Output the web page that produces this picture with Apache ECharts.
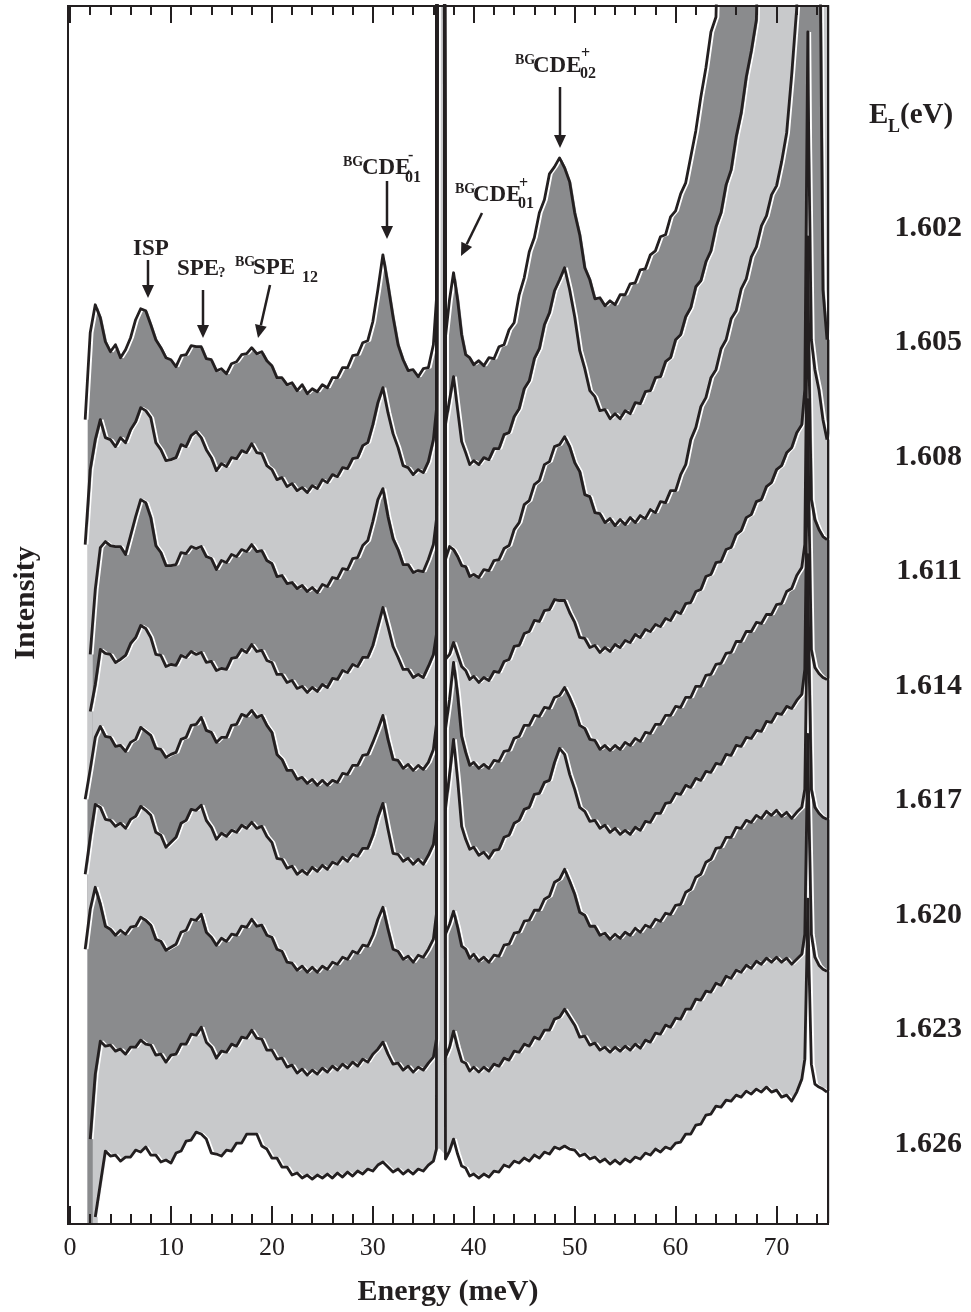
<!DOCTYPE html>
<html>
<head>
<meta charset="utf-8">
<script src="https://cdn.jsdelivr.net/npm/echarts@6/dist/echarts.min.js"></script>
<style>
html, body { margin: 0; padding: 0; background: #fff; }
#chart { width: 971px; height: 1312px; }
</style>
</head>
<body>
<div id="chart"></div>
<script>
// Raman energy shift (meV) grid shared by all spectra
var energy = [
  1.5, 2, 2.5, 3, 3.5, 4, 4.5, 5, 5.5, 6,
  6.5, 7, 7.5, 8, 8.5, 9, 9.5, 10, 10.5, 11,
  11.5, 12, 12.5, 13, 13.5, 14, 14.5, 15, 15.5, 16,
  16.5, 17, 17.5, 18, 18.5, 19, 19.5, 20, 20.5, 21,
  21.5, 22, 22.5, 23, 23.5, 24, 24.5, 25, 25.5, 26,
  26.5, 27, 27.5, 28, 28.5, 29, 29.5, 30, 30.5, 31,
  31.5, 32, 32.5, 33, 33.5, 34, 34.5, 35, 35.5, 36,
  36.3, 36.5, 36.9, 37.2, 37.6, 38, 38.4, 38.8, 39.2, 39.6, 40,
  40.5, 41, 41.5, 42, 42.5, 43, 43.5, 44, 44.5, 45,
  45.5, 46, 46.5, 47, 47.5, 48, 48.5, 49, 49.5, 50,
  50.5, 51, 51.5, 52, 52.5, 53, 53.5, 54, 54.5, 55,
  55.5, 56, 56.5, 57, 57.5, 58, 58.5, 59, 59.5, 60,
  60.5, 61, 61.5, 62, 62.5, 63, 63.5, 64, 64.5, 65,
  65.5, 66, 66.5, 67, 67.5, 68, 68.5, 69, 69.5, 70,
  70.5, 71, 71.5, 72, 72.5,
  72.8, 73, 73.1, 73.2, 73.45, 73.8, 74.2, 74.6, 75
];

// intensities (arb. units, spectra offset vertically) for each laser energy
var spec1602 = [
  804, 891, 919, 906, 882, 872, 879, 866, 874, 886,
  904, 915, 913, 899, 884, 876, 866, 864, 857, 868,
  869, 878, 877, 877, 865, 864, 853, 855, 850, 860,
  862, 869, 870, 876, 870, 872, 863, 858, 846, 846,
  839, 841, 833, 839, 830, 835, 832, 839, 836, 846,
  846, 856, 856, 868, 869, 881, 883, 902, 934, 969,
  939, 907, 879, 864, 853, 854, 847, 855, 856, 879,
  924, 3000, 3000, 887, 924, 951, 924, 889, 869, 866, 859,
  863, 858, 866, 865, 877, 879, 894, 901, 929, 946,
  972, 986, 1011, 1024, 1050, 1057, 1066, 1056, 1042, 1011,
  989, 956, 944, 925, 926, 918, 923, 919, 929, 929,
  940, 941, 954, 955, 969, 973, 987, 989, 1007, 1013,
  1030, 1041, 1067, 1093, 1127, 1156, 1192, 1207, 1400, 1400,
  1400, 1400, 1400, 1400, 1400, 1400, 1400, 1400, 1400, 1400,
  1400, 1400, 1400, 1400, 1400,
  1400, 1400, 1400, 1400, 1400, 1400, 1400, 1400, 1400
];
var spec1605 = [
  679, 754, 784, 804, 786, 784, 777, 786, 781, 794,
  802, 816, 813, 806, 781, 774, 763, 764, 766, 779,
  777, 788, 792, 786, 774, 766, 753, 760, 757, 766,
  765, 773, 771, 780, 771, 770, 758, 754, 744, 746,
  737, 740, 733, 736, 731, 738, 735, 744, 741, 749,
  747, 756, 755, 765, 766, 778, 781, 799, 821, 836,
  811, 790, 776, 758, 756, 749, 754, 751, 762, 784,
  814, 3000, 3000, 799, 824, 847, 814, 782, 771, 759, 763,
  759, 766, 764, 775, 775, 789, 791, 807, 815, 835,
  843, 865, 875, 899, 911, 933, 944, 956, 934, 907,
  873, 855, 833, 827, 813, 814, 805, 810, 805, 813,
  810, 821, 820, 832, 833, 846, 847, 862, 866, 884,
  889, 907, 916, 937, 943, 962, 973, 997, 1011, 1039,
  1054, 1087, 1111, 1147, 1173, 1204, 1400, 1400, 1400, 1400,
  1400, 1400, 1400, 1400, 1400,
  1400, 1400, 1400, 1400, 1400, 1400, 1400, 1400, 1400
];
var spec1608 = [
  null, 569, 634, 676, 682, 678, 677, 677, 669, 688,
  707, 724, 721, 706, 678, 671, 658, 658, 659, 671,
  670, 677, 675, 677, 667, 665, 654, 663, 661, 669,
  667, 674, 672, 679, 672, 673, 663, 660, 647, 648,
  640, 641, 635, 638, 632, 636, 631, 639, 637, 646,
  645, 655, 654, 665, 666, 678, 683, 702, 724, 735,
  707, 685, 674, 659, 659, 651, 653, 652, 664, 679,
  704, 3000, 3000, 664, 677, 674, 667, 658, 657, 647, 649,
  646, 654, 653, 663, 664, 675, 678, 694, 701, 719,
  723, 739, 743, 759, 762, 777, 779, 787, 777, 761,
  752, 729, 727, 711, 710, 701, 705, 698, 704, 699,
  706, 701, 708, 705, 714, 711, 722, 721, 733, 733,
  749, 759, 784, 796, 817, 826, 846, 854, 875, 884,
  905, 913, 935, 945, 967, 977, 998, 1008, 1029, 1038,
  1062, 1091, 1149, 1216, 1400,
  1400, 1400, 1400, 1400, 1400, 1400, 1400, 934, 884
];
var spec1611 = [
  null, 512, 539, 574, 570, 569, 561, 564, 568, 580,
  586, 598, 595, 586, 569, 568, 557, 559, 558, 568,
  566, 572, 569, 571, 561, 562, 553, 555, 554, 565,
  566, 574, 571, 579, 572, 573, 563, 561, 549, 549,
  541, 543, 535, 537, 531, 536, 532, 539, 536, 545,
  544, 553, 551, 559, 557, 566, 566, 578, 597, 616,
  597, 577, 566, 554, 554, 546, 549, 546, 557, 569,
  589, 3000, 3000, 564, 569, 581, 569, 557, 553, 544, 547,
  541, 546, 543, 552, 551, 562, 564, 577, 578, 590,
  592, 603, 602, 613, 614, 624, 623, 623, 611, 601,
  586, 585, 576, 578, 571, 576, 572, 579, 576, 583,
  581, 589, 586, 594, 592, 599, 597, 605, 603, 612,
  610, 620, 621, 632, 634, 647, 649, 661, 662, 674,
  676, 689, 693, 706, 709, 722, 724, 737, 741, 754,
  758, 771, 776, 791, 799,
  834, 1074, 1192, 1074, 884, 854, 834, 804, 784
];
var spec1614 = [
  424, 454, 486, 497, 487, 486, 477, 478, 472, 481,
  484, 496, 492, 488, 475, 474, 466, 469, 471, 484,
  486, 498, 499, 506, 493, 491, 481, 486, 486, 498,
  499, 509, 507, 513, 506, 508, 498, 491, 469, 464,
  453, 453, 444, 446, 440, 444, 438, 443, 438, 443,
  441, 450, 449, 458, 458, 468, 469, 481, 494, 508,
  484, 464, 463, 455, 459, 453, 458, 454, 461, 474,
  499, 3000, 3000, 494, 524, 561, 529, 487, 471, 458, 461,
  455, 459, 455, 463, 462, 472, 473, 485, 487, 498,
  498, 508, 507, 516, 515, 526, 528, 536, 526, 514,
  498, 495, 484, 483, 474, 478, 473, 478, 474, 481,
  478, 485, 482, 491, 490, 499, 499, 508, 508, 517,
  516, 526, 526, 537, 537, 548, 549, 559, 560, 570,
  571, 582, 582, 592, 592, 601, 600, 609, 609, 619,
  620, 632, 635, 648, 656,
  679, 874, 987, 874, 724, 704, 694, 687, 684
];
var spec1617 = [
  349, 386, 419, 416, 404, 403, 397, 400, 395, 404,
  407, 417, 413, 408, 391, 388, 376, 381, 386, 400,
  403, 414, 413, 418, 403, 396, 384, 390, 387, 393,
  391, 398, 395, 401, 395, 397, 387, 381, 365, 364,
  355, 357, 349, 353, 349, 356, 352, 358, 354, 361,
  359, 366, 362, 369, 367, 375, 375, 388, 406, 420,
  394, 370, 369, 362, 365, 359, 364, 359, 368, 379,
  404, 3000, 3000, 414, 449, 484, 444, 397, 384, 374, 376,
  368, 371, 365, 373, 374, 386, 388, 400, 403, 414,
  416, 429, 430, 441, 443, 461, 475, 469, 449, 434,
  416, 412, 402, 403, 395, 398, 391, 395, 389, 393,
  389, 396, 393, 402, 401, 410, 410, 420, 421, 430,
  429, 438, 436, 445, 443, 452, 451, 460, 459, 469,
  468, 478, 477, 486, 485, 493, 492, 502, 501, 510,
  509, 517, 515, 523, 529,
  554, 724, 824, 724, 574, 556, 550, 546, 544
];
var spec1620 = [
  274, 314, 336, 319, 297, 294, 288, 293, 289, 296,
  297, 306, 303, 298, 284, 282, 273, 276, 279, 291,
  293, 304, 303, 309, 291, 286, 278, 285, 282, 289,
  288, 297, 296, 304, 297, 298, 288, 286, 274, 272,
  261, 260, 253, 257, 251, 256, 251, 257, 254, 261,
  259, 266, 264, 272, 270, 278, 277, 288, 304, 316,
  294, 274, 272, 264, 267, 261, 268, 266, 274, 284,
  309, 3000, 3000, 289, 299, 312, 296, 277, 274, 265, 269,
  262, 266, 261, 268, 267, 278, 279, 290, 291, 302,
  303, 313, 313, 324, 327, 341, 344, 354, 342, 329,
  311, 308, 297, 297, 288, 290, 284, 289, 285, 291,
  288, 295, 291, 298, 296, 304, 302, 310, 309, 318,
  319, 331, 334, 346, 349, 361, 364, 375, 376, 386,
  386, 396, 395, 403, 401, 408, 405, 412, 408, 413,
  407, 411, 405, 411, 416,
  434, 574, 669, 574, 434, 416, 410, 406, 404
];
var spec1623 = [
  null, 84, 149, 182, 177, 178, 172, 174, 169, 176,
  176, 183, 179, 178, 168, 169, 161, 168, 169, 179,
  179, 189, 188, 196, 181, 176, 165, 172, 171, 179,
  177, 186, 185, 193, 185, 184, 173, 173, 164, 165,
  156, 158, 150, 154, 148, 153, 149, 155, 151, 157,
  153, 159, 155, 161, 157, 164, 161, 169, 174, 181,
  169, 159, 160, 153, 157, 151, 156, 153, 160, 166,
  184, 3000, 3000, 166, 176, 192, 176, 162, 160, 152, 156,
  151, 156, 152, 159, 157, 165, 163, 172, 171, 179,
  177, 186, 184, 193, 193, 204, 206, 214, 206, 198,
  186, 187, 178, 180, 173, 176, 171, 176, 172, 177,
  173, 179, 175, 183, 181, 190, 189, 198, 196, 205,
  204, 214, 214, 224, 223, 232, 231, 240, 238, 247,
  245, 253, 251, 258, 255, 262, 259, 265, 261, 266,
  261, 265, 259, 264, 269,
  289, 414, 489, 414, 289, 266, 258, 254, 252
];
var spec1626 = [
  null, null, 6, 39, 72, 67, 68, 62, 66, 66,
  73, 71, 76, 68, 68, 61, 63, 60, 70, 72,
  82, 83, 91, 89, 84, 70, 69, 67, 73, 72,
  80, 80, 89, 89, 89, 77, 74, 65, 65, 56,
  56, 48, 50, 45, 48, 44, 48, 45, 49, 45,
  50, 46, 51, 47, 52, 49, 54, 52, 58, 61,
  56, 51, 54, 49, 53, 49, 54, 52, 58, 62,
  74, 3000, 3000, 64, 72, 84, 69, 57, 55, 47, 49,
  45, 49, 46, 52, 51, 58, 56, 62, 60, 65,
  62, 68, 65, 71, 69, 76, 74, 77, 74, 73,
  67, 69, 64, 66, 61, 64, 59, 63, 59, 64,
  61, 66, 64, 70, 68, 74, 71, 76, 74, 80,
  81, 89, 89, 98, 99, 108, 109, 117, 116, 123,
  122, 128, 126, 132, 129, 134, 131, 136, 131, 133,
  126, 128, 122, 131, 144,
  164, 264, 324, 264, 159, 139, 136, 134, 131
];

var laserEnergies = ['1.602', '1.605', '1.608', '1.611', '1.614', '1.617', '1.620', '1.623', '1.626'];
var majorTicks = [0, 10, 20, 30, 40, 50, 60, 70];
var minorTicks = [2, 4, 6, 8, 12, 14, 16, 18, 22, 24, 26, 28, 32, 34, 36, 38,
  42, 44, 46, 48, 52, 54, 56, 58, 62, 64, 66, 68, 72, 74];

var spectra = [spec1602, spec1605, spec1608, spec1611, spec1614, spec1617, spec1620, spec1623, spec1626];
// fill under each trace; the last one is white so the bottom stays blank
var fills = ['#8a8b8d', '#c8c9cb', '#8a8b8d', '#c8c9cb', '#8a8b8d', '#c8c9cb', '#8a8b8d', '#c8c9cb', '#ffffff'];
var INK = '#231f20';
var SERIF = 'Liberation Serif';
var Y_MAX = 1218;
var X_MIN = -0.2, X_MAX = 75.1;
var FILL_SHIFT = 0.25; // fills sit slightly right of the traces, as in the print

var grid = { left: 68, right: 143, top: 6, bottom: 88 };
var gridW = 971 - grid.left - grid.right;
var gridH = 1312 - grid.top - grid.bottom;

function pairs(values) {
  return energy.map(function (e, i) { return [e, values[i]]; });
}

var series = [];
spectra.forEach(function (s, i) {
  var data = pairs(s);
  // the white blanking under the lowest trace skips the off-scale phonon line
  if (i === spectra.length - 1) {
    data = data.filter(function (p) { return p[1] == null || p[1] < Y_MAX; });
  }
  series.push({
    type: 'line', data: data, symbol: 'none', silent: true, z: 2, xAxisIndex: 4,
    lineStyle: { color: '#ffffff', width: 1.6 },
    areaStyle: { color: fills[i], opacity: 1, origin: 'start' }
  });
});
spectra.forEach(function (s) {
  series.push({
    type: 'line', data: pairs(s), symbol: 'none', silent: true, z: 3, xAxisIndex: 0,
    lineStyle: { color: INK, width: 2.8, join: 'round' }
  });
});

function tickAxis(position, values, len, extra) {
  var ax = {
    type: 'value', position: position, min: X_MIN, max: X_MAX, z: 5,
    axisLine: { show: false },
    splitLine: { show: false },
    axisTick: { show: true, inside: true, length: len, customValues: values,
      lineStyle: { color: INK, width: 2 } },
    axisLabel: { show: false }
  };
  return Object.assign(ax, extra || {});
}

var xAxis = [
  tickAxis('bottom', majorTicks, 17, {
    axisLabel: { show: true, customValues: majorTicks, margin: 12,
      fontFamily: SERIF, fontSize: 26, color: INK },
    name: 'Energy (meV)', nameLocation: 'middle', nameGap: 54,
    nameTextStyle: { fontFamily: SERIF, fontWeight: 'bold', fontSize: 30, color: INK }
  }),
  tickAxis('bottom', minorTicks, 9),
  tickAxis('top', majorTicks, 17),
  tickAxis('top', minorTicks, 9),
  // hidden axis carrying the fills
  { type: 'value', show: false, min: X_MIN - FILL_SHIFT, max: X_MAX - FILL_SHIFT }
];

var option = {
  animation: false,
  backgroundColor: '#fff',
  grid: grid,
  xAxis: xAxis,
  yAxis: {
    type: 'value', min: 0, max: Y_MAX,
    axisLine: { show: false }, axisTick: { show: false },
    axisLabel: { show: false }, splitLine: { show: false }
  },
  series: series
};

// annotation pieces: [text, left x, centre y, font size]
var textBits = [
  ['ISP', 133, 249, 23],
  ['SPE', 177, 269, 23], ['?', 218, 273, 15],
  ['BG', 235, 262, 14], ['SPE', 253, 268, 23], ['12', 302, 278, 16],
  ['BG', 343, 162, 14], ['CDE', 362, 168, 23], ['-', 408, 156, 16], ['01', 405, 178, 16],
  ['BG', 455, 189, 14], ['CDE', 473, 195, 23], ['+', 519, 184, 16], ['01', 518, 204, 16],
  ['BG', 515, 60, 14], ['CDE', 533, 66, 23], ['+', 581, 54, 16], ['02', 580, 74, 16],
  ['E', 869, 116, 29], ['L', 888, 127, 18], ['(eV)', 900, 116, 29]
];
// arrows: tail x, tail y, head x, head y
var arrows = [
  [148, 260, 148, 298],
  [203, 290, 203, 338],
  [270, 285, 258, 338],
  [387, 181, 387, 239],
  [482, 213, 461, 256],
  [560, 87, 560, 148]
];

var graphic = [{
  type: 'rect', silent: true, z: 100,
  shape: { x: grid.left, y: grid.top, width: gridW, height: gridH },
  style: { fill: 'none', stroke: INK, lineWidth: 2 }
}, {
  type: 'text', silent: true, z: 100, x: 26, y: 603, rotation: Math.PI / 2,
  style: { text: 'Intensity', x: 0, y: 0, fill: INK, font: 'bold 30px "' + SERIF + '"',
    textAlign: 'center', textVerticalAlign: 'middle' }
}];
textBits.forEach(function (t) {
  graphic.push({
    type: 'text', silent: true, z: 100,
    style: { text: t[0], x: t[1], y: t[2], fill: INK,
      font: 'bold ' + t[3] + 'px "' + SERIF + '"',
      textAlign: 'left', textVerticalAlign: 'middle' }
  });
});
laserEnergies.forEach(function (lbl, i) {
  graphic.push({
    type: 'text', silent: true, z: 100,
    style: { text: lbl, x: 962, y: 228 + i * 114.5, fill: INK,
      font: 'bold 30px "' + SERIF + '"', textAlign: 'right', textVerticalAlign: 'middle' }
  });
});
arrows.forEach(function (a) {
  var dx = a[2] - a[0], dy = a[3] - a[1];
  var len = Math.sqrt(dx * dx + dy * dy);
  var ux = dx / len, uy = dy / len;
  var head = 13, half = 6;
  var bx = a[2] - ux * head, by = a[3] - uy * head;
  graphic.push({
    type: 'line', silent: true, z: 100,
    shape: { x1: a[0], y1: a[1], x2: bx, y2: by },
    style: { stroke: INK, lineWidth: 2.5 }
  });
  graphic.push({
    type: 'polygon', silent: true, z: 100,
    shape: { points: [[a[2], a[3]], [bx - uy * half, by + ux * half], [bx + uy * half, by - ux * half]] },
    style: { fill: INK }
  });
});
option.graphic = graphic;

var chart = echarts.init(document.getElementById('chart'));
chart.setOption(option);
</script>
</body>
</html>
